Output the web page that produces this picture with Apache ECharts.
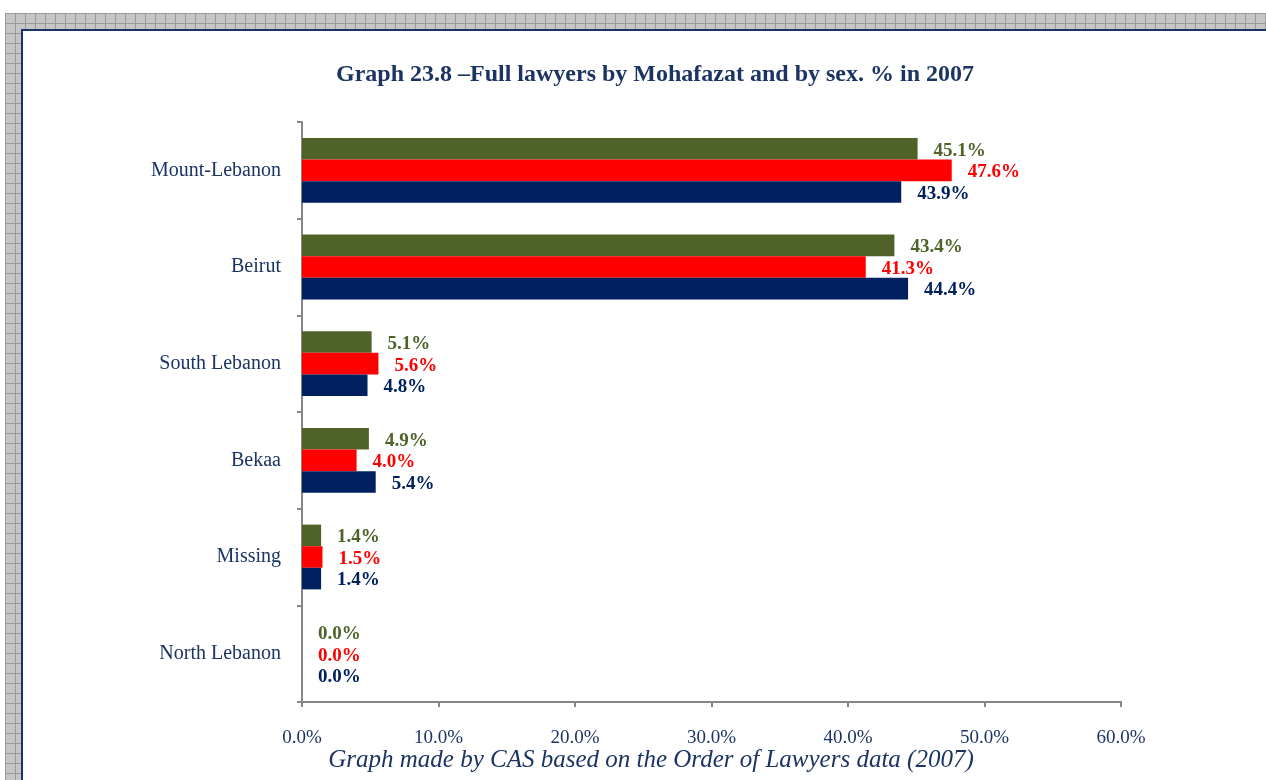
<!DOCTYPE html>
<html>
<head>
<meta charset="utf-8">
<script src="https://cdn.jsdelivr.net/npm/echarts@6/dist/echarts.min.js"></script>
<style>
  html, body { margin: 0; padding: 0; background: #fff; }
  #frame {
    position: absolute; left: 5px; top: 13px; width: 1261px; height: 767px;
    background-color: #c6c6c6;
    background-image:
      linear-gradient(to right, #9a9a9a 1px, transparent 1px),
      linear-gradient(to bottom, #9a9a9a 1px, transparent 1px);
    background-size: 10px 10px;
  }
  #panel {
    position: absolute; left: 21px; top: 29px; width: 1245px; height: 751px;
    background: #fff; border-left: 2px solid #1c3463; border-top: 2px solid #1c3463;
    box-sizing: border-box;
  }
  #main { position: absolute; left: 0; top: 0; width: 1266px; height: 780px; }
</style>
</head>
<body>
<div id="frame"></div>
<div id="panel"></div>
<div id="main"></div>
<script>
	// categories, top to bottom
	var regions = ['Mount-Lebanon', 'Beirut', 'South Lebanon', 'Bekaa', 'Missing', 'North Lebanon'];
	// values in %
	var maleVals = [45.1, 43.4, 5.1, 4.9, 1.4, 0.0];
	var femaleVals = [47.6, 41.3, 5.6, 4.0, 1.5, 0.0];
	var totalVals = [43.9, 44.4, 4.8, 5.4, 1.4, 0.0];
	var seriesNames = ['Male', 'Female', 'Total'];
	var seriesColors = ['#4f6228', '#ff0000', '#002060'];

	var myChart = echarts.init(document.getElementById('main'));
	var textNavy = '#1c3463';
	var serif = '"Liberation Serif", "Times New Roman", serif';

	var makeSeries = function(idx, vals) {
		return {
			name: seriesNames[idx],
			type: 'bar',
			data: vals,
			barGap: '0%',
			barCategoryGap: '33%',
			itemStyle: { color: seriesColors[idx] },
			label: {
				show: true,
				position: 'right',
				distance: 16,
				offset: [0, 2],
				color: seriesColors[idx],
				fontFamily: serif,
				fontWeight: 'bold',
				fontSize: 19,
				formatter: function(p) { return p.value.toFixed(1) + '%'; }
			}
		};
	};

	var options = {
		animation: false,
		title: {
			text: 'Graph 23.8 \u2013Full lawyers by Mohafazat and by sex. % in 2007',
			left: 650, top: 58, textAlign: 'center',
			textStyle: { fontFamily: serif, fontWeight: 'bold', fontSize: 24, color: textNavy }
		},
		grid: { left: 302, top: 122, right: 145, bottom: 78, containLabel: false },
		xAxis: {
			type: 'value',
			min: 0, max: 60, interval: 10,
			axisLine: { show: true, lineStyle: { color: '#868686', width: 2 } },
			axisTick: { show: true, length: 5, lineStyle: { color: '#868686', width: 2 } },
			splitLine: { show: false },
			axisLabel: {
				margin: 27,
				color: textNavy, fontFamily: serif, fontSize: 19,
				formatter: function(v) { return v.toFixed(1) + '%'; }
			}
		},
		yAxis: {
			type: 'category',
			data: regions,
			inverse: true,
			axisLine: { show: true, lineStyle: { color: '#868686', width: 2 } },
			axisTick: { show: true, length: 5, lineStyle: { color: '#868686', width: 2 } },
			axisLabel: { margin: 21, color: textNavy, fontFamily: serif, fontSize: 20 }
		},
		series: [
			makeSeries(0, maleVals),
			makeSeries(1, femaleVals),
			makeSeries(2, totalVals)
		],
		graphic: [{
			type: 'text',
			x: 651, y: 760,
			style: {
				text: 'Graph made by CAS based on the Order of Lawyers data (2007)',
				textAlign: 'center', textVerticalAlign: 'middle',
				fill: textNavy, fontFamily: serif, fontStyle: 'italic', fontSize: 25
			}
		}]
	};
	myChart.setOption(options, true);
</script>
</body>
</html>
